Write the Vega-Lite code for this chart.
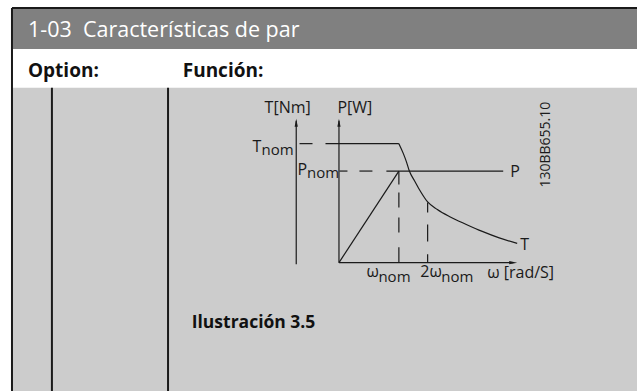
{
  "$schema": "https://vega.github.io/schema/vega-lite/v6.json",
  "width": 638,
  "height": 392,
  "autosize": {"type": "fit", "contains": "padding"},
  "padding": 0,
  "background": "#ffffff",
  "config": {"view": {"stroke": null}, "font": "Open Sans"},
  "datasets": {
    "bg": [
      {"x": 12, "x2": 638, "y": 8, "y2": 49, "part": "header"},
      {"x": 12, "x2": 638, "y": 49, "y2": 88, "part": "row"},
      {"x": 12, "x2": 638, "y": 88, "y2": 392, "part": "body"}
    ],
    "frame": [
      {"x": 12, "y": 8, "x2": 638, "y2": 8},
      {"x": 12, "y": 8, "x2": 12, "y2": 392},
      {"x": 52, "y": 88, "x2": 52, "y2": 392},
      {"x": 168.3, "y": 88, "x2": 168.3, "y2": 392}
    ],
    "diagram": [
      {"x": 296.7, "y": 121, "x2": 296.7, "y2": 265},
      {"x": 339.5, "y": 121, "x2": 339.5, "y2": 263.3},
      {"x": 339.5, "y": 263.3, "x2": 514, "y2": 263.3},
      {"x": 300, "y": 144, "x2": 313, "y2": 144},
      {"x": 326, "y": 144, "x2": 399.5, "y2": 144},
      {"x": 340, "y": 171.5, "x2": 348, "y2": 171.5},
      {"x": 360, "y": 171.5, "x2": 373, "y2": 171.5},
      {"x": 387, "y": 171.5, "x2": 504, "y2": 171.5},
      {"x": 339.5, "y": 263.3, "x2": 399.5, "y2": 171.5},
      {"x": 399.5, "y": 172, "x2": 399.5, "y2": 185},
      {"x": 399.5, "y": 193, "x2": 399.5, "y2": 208},
      {"x": 399.5, "y": 218, "x2": 399.5, "y2": 233},
      {"x": 399.5, "y": 248, "x2": 399.5, "y2": 263},
      {"x": 428.3, "y": 203, "x2": 428.3, "y2": 213},
      {"x": 428.3, "y": 225, "x2": 428.3, "y2": 242},
      {"x": 428.3, "y": 255, "x2": 428.3, "y2": 263}
    ],
    "curve": [
      {"i": 0, "x": 399.5, "y": 144},
      {"i": 1, "x": 404, "y": 154},
      {"i": 2, "x": 407, "y": 162},
      {"i": 3, "x": 410, "y": 171.5},
      {"i": 4, "x": 415, "y": 181},
      {"i": 5, "x": 420, "y": 190},
      {"i": 6, "x": 428.3, "y": 202.5},
      {"i": 7, "x": 438, "y": 210},
      {"i": 8, "x": 450, "y": 217},
      {"i": 9, "x": 467, "y": 225},
      {"i": 10, "x": 483, "y": 232},
      {"i": 11, "x": 500, "y": 238.5},
      {"i": 12, "x": 518, "y": 244}
    ],
    "arrows": [
      {"x": 296.7, "y": 123, "dir": "up"},
      {"x": 339.5, "y": 123, "dir": "up"},
      {"x": 514, "y": 263.3, "dir": "right"}
    ],
    "header": [{"x": 28, "y": 37, "t": "1-03\u00a0\u00a0Características de par"}],
    "colheads": [
      {"x": 28, "y": 77, "t": "Option:"},
      {"x": 183, "y": 77, "t": "Función:"}
    ],
    "caption": [{"x": 192, "y": 329, "t": "Ilustración 3.5"}],
    "labels": [
      {"x": 265, "y": 113, "t": "T[Nm]"},
      {"x": 338, "y": 113, "t": "P[W]"},
      {"x": 253, "y": 152, "t": "T"},
      {"x": 298, "y": 175.5, "t": "P"},
      {"x": 511, "y": 177, "t": "P"},
      {"x": 521, "y": 251, "t": "T"},
      {"x": 367, "y": 278, "t": "ω"},
      {"x": 421, "y": 278, "t": "2ω"},
      {"x": 488, "y": 279, "t": "ω [rad/S]"}
    ],
    "subs": [
      {"x": 262, "y": 155.5, "t": "nom"},
      {"x": 307.5, "y": 178.5, "t": "nom"},
      {"x": 379, "y": 283, "t": "nom"},
      {"x": 442, "y": 283, "t": "nom"}
    ],
    "code": [{"x": 547, "y": 145, "t": "130BB655.10"}]
  },
  "encoding": {
    "x": {"field": "x", "type": "quantitative", "axis": null, "scale": {"domain": [0, 638], "nice": false, "zero": false}},
    "y": {"field": "y", "type": "quantitative", "axis": null, "scale": {"domain": [0, 392], "nice": false, "zero": false, "reverse": true}}
  },
  "layer": [
    {
      "data": {"name": "bg"},
      "mark": {"type": "rect"},
      "encoding": {
        "x2": {"field": "x2"},
        "y2": {"field": "y2"},
        "color": {"field": "part", "type": "nominal", "legend": null, "scale": {"domain": ["header", "row", "body"], "range": ["#808080", "#ffffff", "#cccccc"]}}
      }
    },
    {
      "data": {"name": "frame"},
      "mark": {"type": "rule", "color": "#1a1a1a", "strokeWidth": 2},
      "encoding": {"x2": {"field": "x2"}, "y2": {"field": "y2"}}
    },
    {
      "data": {"name": "diagram"},
      "mark": {"type": "rule", "color": "#1a1a1a", "strokeWidth": 1.2},
      "encoding": {"x2": {"field": "x2"}, "y2": {"field": "y2"}}
    },
    {
      "data": {"name": "curve"},
      "mark": {"type": "line", "color": "#1a1a1a", "strokeWidth": 1.2, "interpolate": "monotone"},
      "encoding": {"order": {"field": "i", "type": "quantitative"}}
    },
    {
      "data": {"name": "arrows"},
      "mark": {"type": "point", "filled": true, "color": "#1a1a1a", "opacity": 1, "size": 64},
      "encoding": {
        "shape": {"field": "dir", "type": "nominal", "legend": null, "scale": {"domain": ["up", "right"], "range": ["M0,-1L0.4,1L-0.4,1Z", "M1,0L-1,0.4L-1,-0.4Z"]}}
      }
    },
    {
      "data": {"name": "header"},
      "mark": {"type": "text", "align": "left", "baseline": "alphabetic", "fontSize": 21.5, "color": "#ffffff", "font": "Open Sans"},
      "encoding": {"text": {"field": "t"}}
    },
    {
      "data": {"name": "colheads"},
      "mark": {"type": "text", "align": "left", "baseline": "alphabetic", "fontSize": 19, "fontWeight": "bold", "color": "#111111", "font": "Open Sans"},
      "encoding": {"text": {"field": "t"}}
    },
    {
      "data": {"name": "caption"},
      "mark": {"type": "text", "align": "left", "baseline": "alphabetic", "fontSize": 17.5, "fontWeight": "bold", "color": "#111111", "font": "Open Sans"},
      "encoding": {"text": {"field": "t"}}
    },
    {
      "data": {"name": "labels"},
      "mark": {"type": "text", "align": "left", "baseline": "alphabetic", "fontSize": 16, "color": "#1a1a1a", "font": "Open Sans"},
      "encoding": {"text": {"field": "t"}}
    },
    {
      "data": {"name": "subs"},
      "mark": {"type": "text", "align": "left", "baseline": "alphabetic", "fontSize": 15, "color": "#1a1a1a", "font": "Open Sans"},
      "encoding": {"text": {"field": "t"}}
    },
    {
      "data": {"name": "code"},
      "mark": {"type": "text", "align": "center", "baseline": "middle", "angle": 270, "fontSize": 14, "color": "#1a1a1a", "font": "Open Sans"},
      "encoding": {"text": {"field": "t"}}
    }
  ]
}
